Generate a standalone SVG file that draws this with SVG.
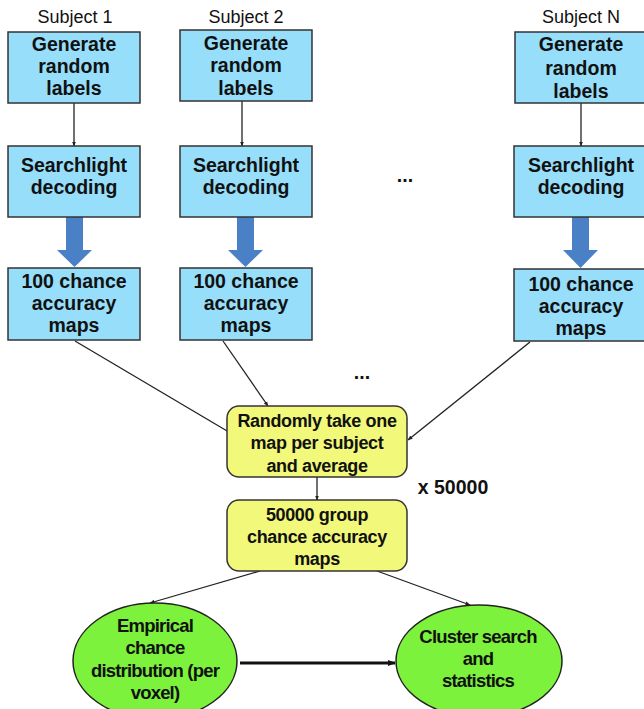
<svg xmlns="http://www.w3.org/2000/svg" width="644" height="709" viewBox="0 0 644 709">
<style>
.sub{font-family:"Liberation Sans",Arial,sans-serif;font-size:18px;fill:#111;text-anchor:middle}
.t{font-family:"Liberation Sans",Arial,sans-serif;font-size:19.5px;font-weight:bold;fill:#111;text-anchor:middle}
.ty{font-family:"Liberation Sans",Arial,sans-serif;font-size:18px;font-weight:bold;fill:#111;text-anchor:middle;letter-spacing:-0.35px}
.te{font-family:"Liberation Sans",Arial,sans-serif;font-size:18.5px;font-weight:bold;fill:#111;text-anchor:middle;letter-spacing:-0.8px}
.box{fill:#96DEFA;stroke:#333;stroke-width:1.5}
.ybox{fill:#F1F87A;stroke:#333;stroke-width:1.5}
.ell{fill:#7DF23C;stroke:#222;stroke-width:1.5}
.ln{stroke:#222;stroke-width:1.3;fill:none}
.fat{fill:#4A80C6}
</style>
<defs>
<marker id="ah" viewBox="0 0 10 10" refX="9" refY="5" markerWidth="5" markerHeight="5" orient="auto" markerUnits="userSpaceOnUse">
<path d="M0,1 L10,5 L0,9 z" fill="#222"/>
</marker>
<marker id="ah2" viewBox="0 0 10 10" refX="9" refY="5" markerWidth="8" markerHeight="8" orient="auto" markerUnits="userSpaceOnUse">
<path d="M0,1 L10,5 L0,9 z" fill="#111"/>
</marker>
</defs>

<text class="sub" x="75" y="23">Subject 1</text>
<text class="sub" x="246" y="23">Subject 2</text>
<text class="sub" x="581" y="23">Subject N</text>
<text class="t" x="405" y="182">...</text>
<text class="t" x="362" y="379">...</text>
<text class="t" x="453" y="494">x 50000</text>

<g id="connectors">
<line class="ln" x1="74" y1="103" x2="74" y2="146" marker-end="url(#ah)"/>
<line class="ln" x1="242" y1="101" x2="242" y2="146" marker-end="url(#ah)"/>
<line class="ln" x1="581" y1="103" x2="581" y2="146" marker-end="url(#ah)"/>
<path class="fat" d="M66,217 H83 V250 H92 L74.5,267 L57,250 H66 Z"/>
<path class="fat" d="M237,217 H254 V250 H263 L245.5,267 L228,250 H237 Z"/>
<path class="fat" d="M572,217 H589 V250 H598 L580.5,268 L563,250 H572 Z"/>
<line class="ln" x1="75" y1="341" x2="244" y2="441" marker-end="url(#ah)"/>
<line class="ln" x1="223" y1="341" x2="268" y2="406" marker-end="url(#ah)"/>
<line class="ln" x1="530" y1="342" x2="408" y2="440" marker-end="url(#ah)"/>
<line class="ln" x1="317" y1="477" x2="317" y2="500" marker-end="url(#ah)"/>
<line class="ln" x1="260" y1="571" x2="150" y2="603" marker-end="url(#ah)"/>
<line class="ln" x1="377" y1="571" x2="470" y2="605" marker-end="url(#ah)"/>
<line stroke="#111" stroke-width="3" x1="240" y1="663" x2="395" y2="663" marker-end="url(#ah2)"/>
</g>

<g id="gen1"><rect class="box" x="8" y="32" width="132" height="71"/>
<text class="t" x="74" y="51">Generate</text><text class="t" x="74" y="73">random</text><text class="t" x="74" y="95">labels</text></g>
<g id="gen2"><rect class="box" x="180" y="30" width="132" height="71"/>
<text class="t" x="246" y="50">Generate</text><text class="t" x="246" y="72">random</text><text class="t" x="246" y="95">labels</text></g>
<g id="genN"><rect class="box" x="515" y="32" width="130" height="71"/>
<text class="t" x="581" y="51">Generate</text><text class="t" x="581" y="75">random</text><text class="t" x="581" y="98">labels</text></g>

<g id="sl1"><rect class="box" x="8" y="146" width="132" height="71"/>
<text class="t" x="74" y="172">Searchlight</text><text class="t" x="74" y="194">decoding</text></g>
<g id="sl2"><rect class="box" x="180" y="146" width="132" height="71"/>
<text class="t" x="246" y="172">Searchlight</text><text class="t" x="246" y="194">decoding</text></g>
<g id="slN"><rect class="box" x="514" y="146" width="131" height="71"/>
<text class="t" x="581" y="172">Searchlight</text><text class="t" x="581" y="194">decoding</text></g>

<g id="map1"><rect class="box" x="8" y="268" width="132" height="72"/>
<text class="t" x="74" y="288">100 chance</text><text class="t" x="74" y="310">accuracy</text><text class="t" x="74" y="332">maps</text></g>
<g id="map2"><rect class="box" x="180" y="268" width="132" height="72"/>
<text class="t" x="246" y="288">100 chance</text><text class="t" x="246" y="310">accuracy</text><text class="t" x="246" y="332">maps</text></g>
<g id="mapN"><rect class="box" x="514" y="269" width="131" height="72"/>
<text class="t" x="581" y="291">100 chance</text><text class="t" x="581" y="313">accuracy</text><text class="t" x="581" y="335">maps</text></g>

<g id="avg"><rect class="ybox" x="227" y="406" width="180" height="71" rx="12"/>
<text class="ty" x="317" y="427">Randomly take one</text><text class="ty" x="317" y="449">map per subject</text><text class="ty" x="317" y="472">and average</text></g>
<g id="group"><rect class="ybox" x="227" y="500" width="180" height="71" rx="12"/>
<text class="ty" x="317" y="521">50000 group</text><text class="ty" x="317" y="543">chance accuracy</text><text class="ty" x="317" y="565">maps</text></g>

<g id="empirical"><ellipse class="ell" cx="155" cy="661" rx="82" ry="58"/>
<text class="te" x="155" y="632">Empirical</text><text class="te" x="155" y="654">chance</text><text class="te" x="155" y="677">distribution (per</text><text class="te" x="155" y="699">voxel)</text></g>
<g id="cluster"><ellipse class="ell" cx="479" cy="661" rx="83" ry="56"/>
<text class="te" x="478" y="643">Cluster search</text><text class="te" x="478" y="665">and</text><text class="te" x="478" y="687">statistics</text></g>
</svg>
